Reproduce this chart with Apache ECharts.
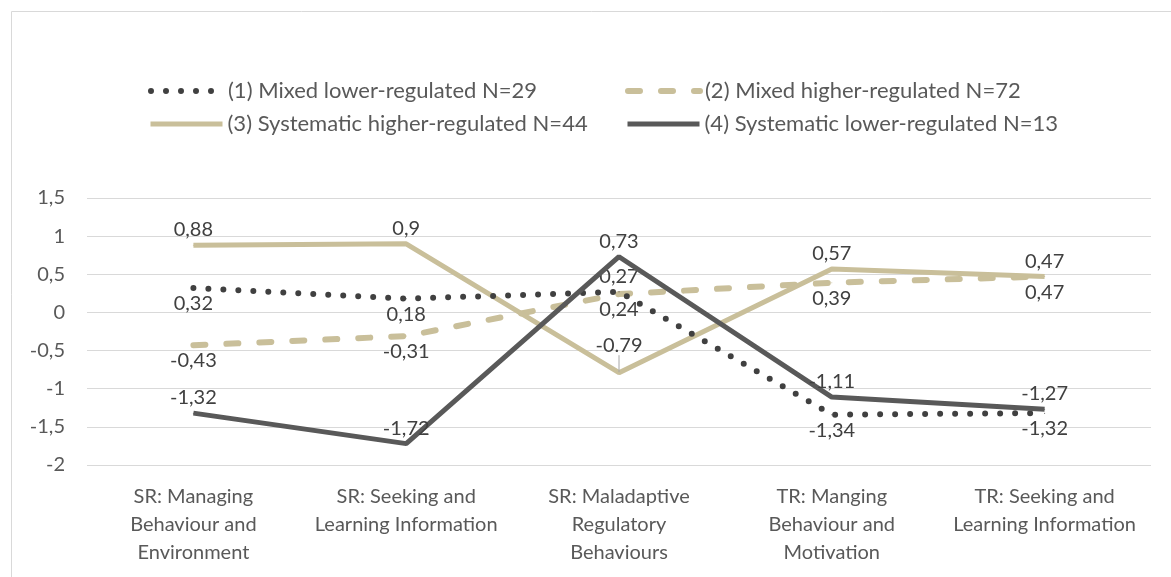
<!DOCTYPE html>
<html lang="en">
<head>
    <meta charset="UTF-8">
    <script src="https://cdn.jsdelivr.net/npm/echarts@6.0.0/dist/echarts.min.js"></script>
    <title>Profiles</title>
    <style>
        html, body { margin: 0; padding: 0; background: #fff; }
    </style>
</head>
<body>
    <div id="chart" style="width: 1171px;height:577px;"></div>
    <script>
        // categories and group values
        var categories = [
            'SR: Managing\nBehaviour and\nEnvironment',
            'SR: Seeking and\nLearning Information',
            'SR: Maladaptive\nRegulatory\nBehaviours',
            'TR: Manging\nBehaviour and\nMotivation',
            'TR: Seeking and\nLearning Information'
        ];
        var names = [
            '(1) Mixed lower-regulated N=29',
            '(2) Mixed higher-regulated N=72',
            '(3) Systematic higher-regulated N=44',
            '(4) Systematic lower-regulated N=13'
        ];
        var mixedLower = [0.32, 0.18, 0.27, -1.34, -1.32];
        var mixedHigher = [-0.43, -0.31, 0.24, 0.39, 0.47];
        var systHigher = [0.88, 0.9, -0.79, 0.57, 0.47];
        var systLower = [-1.32, -1.72, 0.73, -1.11, -1.27];
        var yTicks = [-2, -1.5, -1, -0.5, 0, 0.5, 1, 1.5];

        var font = 'Lato, "Open Sans", sans-serif';
        var tan = '#c9bf9a';
        var dark = '#595959';

        function comma(v) {
            return String(v).replace('.', ',');
        }

        // label position per point for series (1)
        var posLower = ['bottom', 'bottom', 'top', 'bottom', 'bottom'];

        var chart = echarts.init(document.getElementById('chart'));

        var labelBase = {
            show: true,
            fontFamily: font,
            fontSize: 20,
            color: '#404040',
            formatter: function (p) { return comma(p.value); }
        };

        var lowerData = mixedLower.map(function (v, i) {
            return { value: v, label: { position: posLower[i] } };
        });

        var highData = systHigher.map(function (v, i) {
            if (i === 2) {
                // this one is written with a point in the original
                return {
                    value: v,
                    label: { position: 'top', formatter: '-0.79' },
                    labelLine: { show: true }
                };
            }
            return { value: v };
        });

        var legendBase = {
            itemWidth: 72,
            itemHeight: 14,
            itemGap: 5,
            itemStyle: { opacity: 0 },
            lineStyle: { width: 'inherit', type: 'inherit', cap: 'inherit' },
            textStyle: { fontFamily: font, fontSize: 22, color: '#595959' }
        };

        var option = {
            animation: false,
            graphic: [{
                type: 'rect',
                shape: { x: 11.5, y: 11.5, width: 1170, height: 580 },
                style: { fill: 'none', stroke: '#d9d9d9', lineWidth: 1 },
                silent: true
            }],
            legend: [
                Object.assign({ left: 143, top: 75, data: [names[0]] }, legendBase),
                Object.assign({ left: 620, top: 75, data: [names[1]] }, legendBase),
                Object.assign({ left: 143, top: 108, data: [names[2]] }, legendBase),
                Object.assign({ left: 620, top: 108, data: [names[3]] }, legendBase)
            ],
            grid: { left: 87, right: 20, top: 198, bottom: 112 },
            xAxis: {
                type: 'category',
                data: categories,
                axisLine: { show: false },
                axisTick: { show: false },
                axisLabel: {
                    fontFamily: font,
                    fontSize: 20,
                    color: '#595959',
                    lineHeight: 28,
                    margin: 18,
                    interval: 0
                }
            },
            yAxis: {
                type: 'value',
                min: -2,
                max: 1.5,
                interval: 0.5,
                axisLine: { show: false },
                axisTick: { show: false },
                splitLine: { lineStyle: { color: '#d9d9d9', width: 1 } },
                axisLabel: {
                    fontFamily: font,
                    fontSize: 20,
                    color: '#595959',
                    margin: 22,
                    formatter: function (v) { return yTicks.indexOf(v) >= 0 ? comma(v) : ''; }
                }
            },
            series: [
                {
                    name: names[0],
                    type: 'line',
                    data: lowerData,
                    symbol: 'circle',
                    symbolSize: 1,
                    z: 3,
                    lineStyle: { color: '#404040', width: 6, type: [0, 15], cap: 'round' },
                    itemStyle: { color: '#404040' },
                    label: labelBase
                },
                {
                    name: names[1],
                    type: 'line',
                    data: mixedHigher,
                    symbol: 'circle',
                    symbolSize: 1,
                    z: 2,
                    lineStyle: { color: tan, width: 6, type: [12, 21], cap: 'round' },
                    itemStyle: { color: tan },
                    label: Object.assign({}, labelBase, { position: 'bottom' })
                },
                {
                    name: names[2],
                    type: 'line',
                    data: highData,
                    symbol: 'circle',
                    symbolSize: 1,
                    z: 2,
                    lineStyle: { color: tan, width: 5 },
                    itemStyle: { color: tan },
                    label: Object.assign({}, labelBase, { position: 'top' }),
                    labelLine: { show: false, lineStyle: { color: '#a6a6a6', width: 1 } },
                    labelLayout: function (p) {
                        return p.dataIndex === 2 ? { dy: -12 } : {};
                    }
                },
                {
                    name: names[3],
                    type: 'line',
                    data: systLower,
                    symbol: 'circle',
                    symbolSize: 1,
                    z: 4,
                    lineStyle: { color: dark, width: 5 },
                    itemStyle: { color: dark },
                    label: Object.assign({}, labelBase, { position: 'top' })
                }
            ]
        };

        chart.setOption(option);
    </script>
</body>
</html>
